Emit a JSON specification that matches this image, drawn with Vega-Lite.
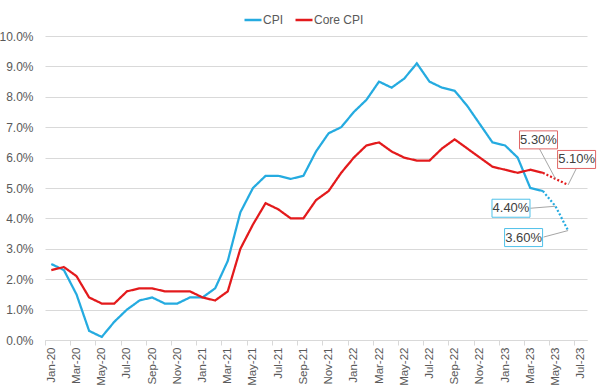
{
  "$schema": "https://vega.github.io/schema/vega-lite/v6.json",
  "width": 542,
  "height": 304,
  "autosize": {"type": "none"},
  "padding": {"left": 45, "top": 36, "right": 13, "bottom": 48},
  "background": "white",
  "config": {"view": {"stroke": null}, "font": "Liberation Sans"},
  "datasets": {
    "series": [
      {"month": "Jan-20", "series": "CPI", "kind": "Actual", "value": 2.5},
      {"month": "Feb-20", "series": "CPI", "kind": "Actual", "value": 2.3},
      {"month": "Mar-20", "series": "CPI", "kind": "Actual", "value": 1.5},
      {"month": "Apr-20", "series": "CPI", "kind": "Actual", "value": 0.3},
      {"month": "May-20", "series": "CPI", "kind": "Actual", "value": 0.1},
      {"month": "Jun-20", "series": "CPI", "kind": "Actual", "value": 0.6},
      {"month": "Jul-20", "series": "CPI", "kind": "Actual", "value": 1.0},
      {"month": "Aug-20", "series": "CPI", "kind": "Actual", "value": 1.3},
      {"month": "Sep-20", "series": "CPI", "kind": "Actual", "value": 1.4},
      {"month": "Oct-20", "series": "CPI", "kind": "Actual", "value": 1.2},
      {"month": "Nov-20", "series": "CPI", "kind": "Actual", "value": 1.2},
      {"month": "Dec-20", "series": "CPI", "kind": "Actual", "value": 1.4},
      {"month": "Jan-21", "series": "CPI", "kind": "Actual", "value": 1.4},
      {"month": "Feb-21", "series": "CPI", "kind": "Actual", "value": 1.7},
      {"month": "Mar-21", "series": "CPI", "kind": "Actual", "value": 2.6},
      {"month": "Apr-21", "series": "CPI", "kind": "Actual", "value": 4.2},
      {"month": "May-21", "series": "CPI", "kind": "Actual", "value": 5.0},
      {"month": "Jun-21", "series": "CPI", "kind": "Actual", "value": 5.4},
      {"month": "Jul-21", "series": "CPI", "kind": "Actual", "value": 5.4},
      {"month": "Aug-21", "series": "CPI", "kind": "Actual", "value": 5.3},
      {"month": "Sep-21", "series": "CPI", "kind": "Actual", "value": 5.4},
      {"month": "Oct-21", "series": "CPI", "kind": "Actual", "value": 6.2},
      {"month": "Nov-21", "series": "CPI", "kind": "Actual", "value": 6.8},
      {"month": "Dec-21", "series": "CPI", "kind": "Actual", "value": 7.0},
      {"month": "Jan-22", "series": "CPI", "kind": "Actual", "value": 7.5},
      {"month": "Feb-22", "series": "CPI", "kind": "Actual", "value": 7.9},
      {"month": "Mar-22", "series": "CPI", "kind": "Actual", "value": 8.5},
      {"month": "Apr-22", "series": "CPI", "kind": "Actual", "value": 8.3},
      {"month": "May-22", "series": "CPI", "kind": "Actual", "value": 8.6},
      {"month": "Jun-22", "series": "CPI", "kind": "Actual", "value": 9.1},
      {"month": "Jul-22", "series": "CPI", "kind": "Actual", "value": 8.5},
      {"month": "Aug-22", "series": "CPI", "kind": "Actual", "value": 8.3},
      {"month": "Sep-22", "series": "CPI", "kind": "Actual", "value": 8.2},
      {"month": "Oct-22", "series": "CPI", "kind": "Actual", "value": 7.7},
      {"month": "Nov-22", "series": "CPI", "kind": "Actual", "value": 7.1},
      {"month": "Dec-22", "series": "CPI", "kind": "Actual", "value": 6.5},
      {"month": "Jan-23", "series": "CPI", "kind": "Actual", "value": 6.4},
      {"month": "Feb-23", "series": "CPI", "kind": "Actual", "value": 6.0},
      {"month": "Mar-23", "series": "CPI", "kind": "Actual", "value": 5.0},
      {"month": "Apr-23", "series": "CPI", "kind": "Actual", "value": 4.9},
      {"month": "Apr-23", "series": "CPI", "kind": "Forecast", "value": 4.9},
      {"month": "May-23", "series": "CPI", "kind": "Forecast", "value": 4.4},
      {"month": "Jun-23", "series": "CPI", "kind": "Forecast", "value": 3.6},
      {"month": "Jan-20", "series": "Core CPI", "kind": "Actual", "value": 2.3},
      {"month": "Feb-20", "series": "Core CPI", "kind": "Actual", "value": 2.4},
      {"month": "Mar-20", "series": "Core CPI", "kind": "Actual", "value": 2.1},
      {"month": "Apr-20", "series": "Core CPI", "kind": "Actual", "value": 1.4},
      {"month": "May-20", "series": "Core CPI", "kind": "Actual", "value": 1.2},
      {"month": "Jun-20", "series": "Core CPI", "kind": "Actual", "value": 1.2},
      {"month": "Jul-20", "series": "Core CPI", "kind": "Actual", "value": 1.6},
      {"month": "Aug-20", "series": "Core CPI", "kind": "Actual", "value": 1.7},
      {"month": "Sep-20", "series": "Core CPI", "kind": "Actual", "value": 1.7},
      {"month": "Oct-20", "series": "Core CPI", "kind": "Actual", "value": 1.6},
      {"month": "Nov-20", "series": "Core CPI", "kind": "Actual", "value": 1.6},
      {"month": "Dec-20", "series": "Core CPI", "kind": "Actual", "value": 1.6},
      {"month": "Jan-21", "series": "Core CPI", "kind": "Actual", "value": 1.4},
      {"month": "Feb-21", "series": "Core CPI", "kind": "Actual", "value": 1.3},
      {"month": "Mar-21", "series": "Core CPI", "kind": "Actual", "value": 1.6},
      {"month": "Apr-21", "series": "Core CPI", "kind": "Actual", "value": 3.0},
      {"month": "May-21", "series": "Core CPI", "kind": "Actual", "value": 3.8},
      {"month": "Jun-21", "series": "Core CPI", "kind": "Actual", "value": 4.5},
      {"month": "Jul-21", "series": "Core CPI", "kind": "Actual", "value": 4.3},
      {"month": "Aug-21", "series": "Core CPI", "kind": "Actual", "value": 4.0},
      {"month": "Sep-21", "series": "Core CPI", "kind": "Actual", "value": 4.0},
      {"month": "Oct-21", "series": "Core CPI", "kind": "Actual", "value": 4.6},
      {"month": "Nov-21", "series": "Core CPI", "kind": "Actual", "value": 4.9},
      {"month": "Dec-21", "series": "Core CPI", "kind": "Actual", "value": 5.5},
      {"month": "Jan-22", "series": "Core CPI", "kind": "Actual", "value": 6.0},
      {"month": "Feb-22", "series": "Core CPI", "kind": "Actual", "value": 6.4},
      {"month": "Mar-22", "series": "Core CPI", "kind": "Actual", "value": 6.5},
      {"month": "Apr-22", "series": "Core CPI", "kind": "Actual", "value": 6.2},
      {"month": "May-22", "series": "Core CPI", "kind": "Actual", "value": 6.0},
      {"month": "Jun-22", "series": "Core CPI", "kind": "Actual", "value": 5.9},
      {"month": "Jul-22", "series": "Core CPI", "kind": "Actual", "value": 5.9},
      {"month": "Aug-22", "series": "Core CPI", "kind": "Actual", "value": 6.3},
      {"month": "Sep-22", "series": "Core CPI", "kind": "Actual", "value": 6.6},
      {"month": "Oct-22", "series": "Core CPI", "kind": "Actual", "value": 6.3},
      {"month": "Nov-22", "series": "Core CPI", "kind": "Actual", "value": 6.0},
      {"month": "Dec-22", "series": "Core CPI", "kind": "Actual", "value": 5.7},
      {"month": "Jan-23", "series": "Core CPI", "kind": "Actual", "value": 5.6},
      {"month": "Feb-23", "series": "Core CPI", "kind": "Actual", "value": 5.5},
      {"month": "Mar-23", "series": "Core CPI", "kind": "Actual", "value": 5.6},
      {"month": "Apr-23", "series": "Core CPI", "kind": "Actual", "value": 5.5},
      {"month": "Apr-23", "series": "Core CPI", "kind": "Forecast", "value": 5.5},
      {"month": "May-23", "series": "Core CPI", "kind": "Forecast", "value": 5.3},
      {"month": "Jun-23", "series": "Core CPI", "kind": "Forecast", "value": 5.1}
    ],
    "labels": [
      {"month": "May-23", "series": "Core CPI", "value": 5.3, "label": "5.30%"},
      {"month": "Jun-23", "series": "Core CPI", "value": 5.1, "label": "5.10%"},
      {"month": "May-23", "series": "CPI", "value": 4.4, "label": "4.40%"},
      {"month": "Jun-23", "series": "CPI", "value": 3.6, "label": "3.60%"}
    ]
  },
  "encoding": {
    "x": {
      "field": "month",
      "type": "ordinal",
      "scale": {
        "type": "point",
        "padding": 0.5,
        "domain": ["Jan-20","Feb-20","Mar-20","Apr-20","May-20","Jun-20","Jul-20","Aug-20","Sep-20","Oct-20","Nov-20","Dec-20","Jan-21","Feb-21","Mar-21","Apr-21","May-21","Jun-21","Jul-21","Aug-21","Sep-21","Oct-21","Nov-21","Dec-21","Jan-22","Feb-22","Mar-22","Apr-22","May-22","Jun-22","Jul-22","Aug-22","Sep-22","Oct-22","Nov-22","Dec-22","Jan-23","Feb-23","Mar-23","Apr-23","May-23","Jun-23","Jul-23"]
      },
      "axis": {
        "title": null,
        "values": ["Jan-20","Mar-20","May-20","Jul-20","Sep-20","Nov-20","Jan-21","Mar-21","May-21","Jul-21","Sep-21","Nov-21","Jan-22","Mar-22","May-22","Jul-22","Sep-22","Nov-22","Jan-23","Mar-23","May-23","Jul-23"],
        "labelAngle": -90,
        "labelFontSize": 11.5,
        "labelColor": "#595959",
        "labelPadding": 2,
        "tickOffset": -6.3,
        "labelOffset": 6.3,
        "tickSize": 5,
        "tickColor": "#d9d9d9",
        "domainColor": "#d9d9d9",
        "grid": false
      }
    },
    "y": {
      "field": "value",
      "type": "quantitative",
      "scale": {"domain": [0, 10], "nice": false},
      "axis": {
        "title": null,
        "values": [0,1,2,3,4,5,6,7,8,9,10],
        "labelExpr": "format(datum.value, '.1f') + '%'",
        "labelFontSize": 12,
        "labelColor": "#595959",
        "labelPadding": 12,
        "domain": false,
        "ticks": false,
        "grid": true,
        "gridColor": "#d9d9d9"
      }
    }
  },
  "layer": [
    {
      "data": {"name": "series"},
      "mark": {"type": "line", "strokeWidth": 2.25},
      "encoding": {
        "color": {
          "field": "series",
          "type": "nominal",
          "scale": {"domain": ["CPI", "Core CPI"], "range": ["#25ABE0", "#E31A1C"]},
          "legend": {
            "title": null,
            "orient": "none",
            "direction": "horizontal",
            "legendX": 198,
            "legendY": -26,
            "padding": 0,
            "symbolType": "stroke",
            "symbolSize": 289,
            "symbolStrokeWidth": 2.5,
            "labelFontSize": 12,
            "labelColor": "#595959",
            "labelOffset": 0,
            "columnPadding": 6
          }
        },
        "strokeDash": {
          "field": "kind",
          "type": "nominal",
          "scale": {"domain": ["Actual", "Forecast"], "range": [[1, 0], [2, 2]]},
          "legend": null
        },
        "order": {"value": null}
      }
    },
    {
      "data": {"name": "labels"},
      "transform": [{"filter": "datum.label == '5.30%'"}],
      "layer": [
        {"mark": {"type": "rule", "color": "#A6A6A6", "strokeWidth": 1, "x2Offset": -16, "y2Offset": -30},
         "encoding": {"x2": {"field": "month"}, "y2": {"field": "value"}}},
        {"mark": {"type": "point", "shape": "M-1,-0.474H1V0.474H-1Z", "size": 1444, "filled": true, "fill": "white", "stroke": "#E06666", "strokeWidth": 1, "opacity": 1, "xOffset": -17, "yOffset": -39}},
        {"mark": {"type": "text", "fontSize": 13, "color": "#404040", "xOffset": -17, "yOffset": -39},
         "encoding": {"text": {"field": "label"}}}
      ]
    },
    {
      "data": {"name": "labels"},
      "transform": [{"filter": "datum.label == '5.10%'"}],
      "layer": [
        {"mark": {"type": "rule", "color": "#A6A6A6", "strokeWidth": 1, "x2Offset": 8.5, "y2Offset": -17},
         "encoding": {"x2": {"field": "month"}, "y2": {"field": "value"}}},
        {"mark": {"type": "point", "shape": "M-1,-0.474H1V0.474H-1Z", "size": 1444, "filled": true, "fill": "white", "stroke": "#E06666", "strokeWidth": 1, "opacity": 1, "xOffset": 8.5, "yOffset": -25.5}},
        {"mark": {"type": "text", "fontSize": 13, "color": "#404040", "xOffset": 8.5, "yOffset": -25.5},
         "encoding": {"text": {"field": "label"}}}
      ]
    },
    {
      "data": {"name": "labels"},
      "transform": [{"filter": "datum.label == '4.40%'"}],
      "layer": [
        {"mark": {"type": "rule", "color": "#A6A6A6", "strokeWidth": 1, "x2Offset": -25, "y2Offset": 2},
         "encoding": {"x2": {"field": "month"}, "y2": {"field": "value"}}},
        {"mark": {"type": "point", "shape": "M-1,-0.474H1V0.474H-1Z", "size": 1444, "filled": true, "fill": "white", "stroke": "#4FC1E9", "strokeWidth": 1, "opacity": 1, "xOffset": -44.5, "yOffset": 2}},
        {"mark": {"type": "text", "fontSize": 13, "color": "#404040", "xOffset": -44.5, "yOffset": 2},
         "encoding": {"text": {"field": "label"}}}
      ]
    },
    {
      "data": {"name": "labels"},
      "transform": [{"filter": "datum.label == '3.60%'"}],
      "layer": [
        {"mark": {"type": "rule", "color": "#A6A6A6", "strokeWidth": 1, "x2Offset": -24.5, "y2Offset": 6.5},
         "encoding": {"x2": {"field": "month"}, "y2": {"field": "value"}}},
        {"mark": {"type": "point", "shape": "M-1,-0.474H1V0.474H-1Z", "size": 1444, "filled": true, "fill": "white", "stroke": "#4FC1E9", "strokeWidth": 1, "opacity": 1, "xOffset": -44.5, "yOffset": 7}},
        {"mark": {"type": "text", "fontSize": 13, "color": "#404040", "xOffset": -44.5, "yOffset": 7},
         "encoding": {"text": {"field": "label"}}}
      ]
    }
  ]
}
